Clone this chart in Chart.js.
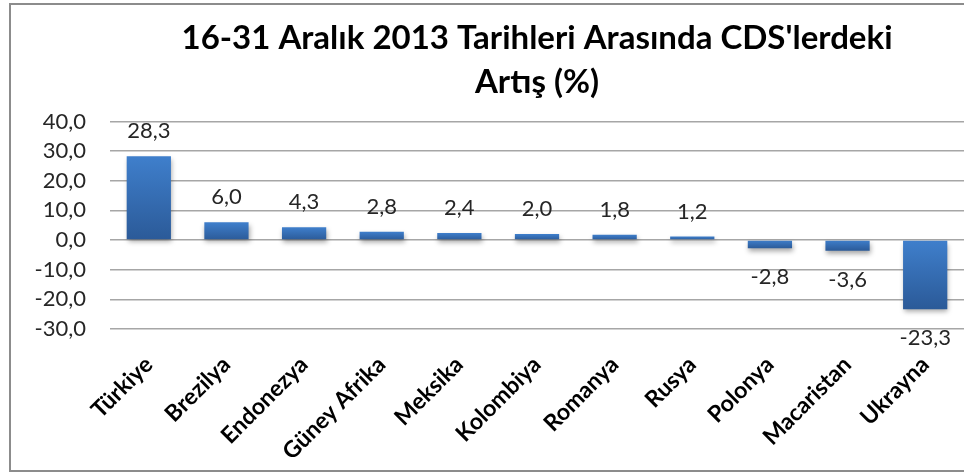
<!DOCTYPE html>
<html lang="tr">
<head>
    <meta charset="UTF-8">
    <title>CDS Artış</title>
    <script src="https://cdn.jsdelivr.net/npm/chart.js"></script>
    <style>
        html, body {
            margin: 0;
            padding: 0;
            background: #ffffff;
        }
        .frame {
            position: relative;
            width: 964px;
            height: 475px;
        }
        .border {
            position: absolute;
            left: 9px;
            top: 3px;
            width: 1000px;
            height: 465px;
            border: 2px solid #8c8c8c;
            pointer-events: none;
        }
        canvas {
            display: block;
        }
    </style>
</head>
<body>
    <div class="frame">
        <canvas id="cdsChart" width="964" height="475"></canvas>
        <div class="border"></div>
    </div>

    <script>
        const titleLines = ["16-31 Aralık 2013 Tarihleri Arasında CDS'lerdeki", "Artış (%)"];
        const countries = ['Türkiye', 'Brezilya', 'Endonezya', 'Güney Afrika', 'Meksika', 'Kolombiya',
                           'Romanya', 'Rusya', 'Polonya', 'Macaristan', 'Ukrayna'];
        const changes = [28.3, 6.0, 4.3, 2.8, 2.4, 2.0, 1.8, 1.2, -2.8, -3.6, -23.3];
        const yMin = -30;
        const yMax = 40;
        const yStep = 10;

        const fmt = v => v.toFixed(1).replace('.', ',');

        // each bar gets its own top-to-bottom gradient (scriptable, so options are not shared)
        function barGradient(context) {
            const chart = context.chart;
            const y = chart.scales.y;
            if (!chart.chartArea || !y || context.raw === undefined) return '#3a70b4';
            const p1 = y.getPixelForValue(context.raw);
            const p0 = y.getPixelForValue(0);
            const top = Math.min(p0, p1);
            const bottom = Math.max(p0, p1);
            const g = chart.ctx.createLinearGradient(0, top, 0, bottom + 0.01);
            g.addColorStop(0, '#3f7fcc');
            g.addColorStop(1, '#2b5a98');
            return g;
        }

        // soft shadow under bars, value labels outside the bar end
        const barStyle = {
            id: 'barStyle',
            beforeDatasetsDraw(chart) {
                const ctx = chart.ctx;
                ctx.save();
                ctx.shadowColor = 'rgba(0,0,0,0.35)';
                ctx.shadowBlur = 5;
                ctx.shadowOffsetX = 1;
                ctx.shadowOffsetY = 3;
            },
            afterDatasetsDraw(chart) {
                const ctx = chart.ctx;
                ctx.restore();
                ctx.save();
                ctx.font = '22px Lato';
                ctx.fillStyle = '#262626';
                ctx.textAlign = 'center';
                chart.getDatasetMeta(0).data.forEach((bar, i) => {
                    const v = changes[i];
                    if (v >= 0) {
                        ctx.textBaseline = 'bottom';
                        ctx.fillText(fmt(v), bar.x, bar.y - 14);
                    } else {
                        ctx.textBaseline = 'top';
                        ctx.fillText(fmt(v), bar.x, bar.y + 18);
                    }
                });
                ctx.restore();
            }
        };

        new Chart(document.getElementById('cdsChart'), {
            type: 'bar',
            data: {
                labels: countries,
                datasets: [{
                    data: changes,
                    backgroundColor: barGradient,
                    borderWidth: 0,
                    categoryPercentage: 1,
                    barPercentage: 0.57
                }]
            },
            options: {
                responsive: false,
                animation: false,
                layout: {
                    padding: { left: 10, right: 0, top: 16, bottom: 0 }
                },
                plugins: {
                    legend: { display: false },
                    tooltip: { enabled: false },
                    title: {
                        display: true,
                        text: titleLines,
                        fullSize: false,
                        color: '#000000',
                        font: { family: 'Lato', size: 33, weight: 'bold', lineHeight: 1.34 },
                        padding: { top: 0, bottom: 17 }
                    }
                },
                scales: {
                    x: {
                        grid: { display: false },
                        border: { display: false },
                        ticks: {
                            color: '#000000',
                            font: { family: 'Lato', size: 23, weight: 'bold' },
                            minRotation: 45,
                            maxRotation: 45,
                            padding: 14
                        },
                        afterFit: s => { s.height = 146; }
                    },
                    y: {
                        min: yMin,
                        max: yMax,
                        border: { display: false },
                        grid: {
                            color: '#a6a6a6',
                            lineWidth: 1.5,
                            drawTicks: false
                        },
                        ticks: {
                            stepSize: yStep,
                            color: '#262626',
                            font: { family: 'Lato', size: 22 },
                            padding: 24,
                            callback: v => fmt(v)
                        },
                        afterFit: s => { s.width = 100; }
                    }
                }
            },
            plugins: [barStyle]
        });
    </script>
</body>
</html>
